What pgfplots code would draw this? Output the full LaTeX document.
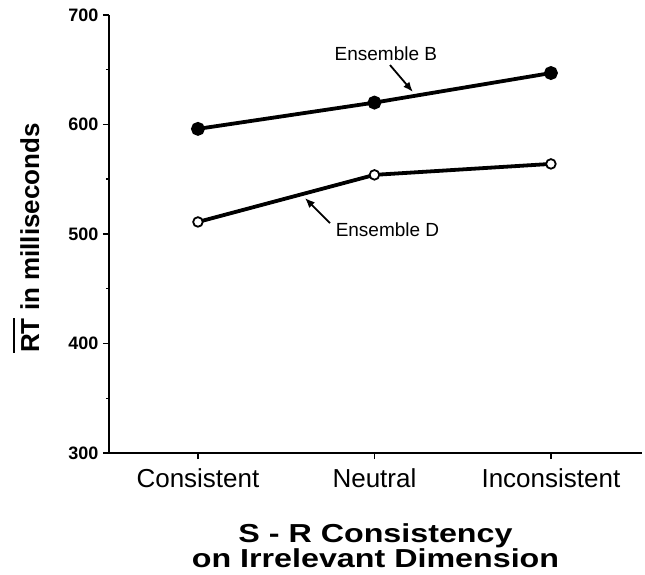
\documentclass[border=0pt]{standalone}
\usepackage{fontspec}
\setmainfont{Liberation Sans}
\usepackage{pgfplots}
\pgfplotsset{compat=1.18}
\usetikzlibrary{arrows.meta}
\newfontfamily\titlefont[FakeStretch=1.24]{Liberation Sans}

\begin{document}
\begin{tikzpicture}
\begin{axis}[
  scale only axis, width=533bp, height=438bp,
  xmin=-0.504, xmax=2.516, ymin=300, ymax=700,
  axis x line*=bottom, axis y line*=left,
  axis line style={line width=2.2bp, -},
  xtick={0,1,2}, xticklabels={Consistent,Neutral,Inconsistent},
  ytick={300,400,500,600,700}, minor ytick={350,450,550,650},
  tick align=outside,
  major tick length=6bp, minor tick length=3bp,
  tick style={line width=1.5bp, black},
  /pgf/number format/assume math mode=true,
  yticklabel style={font=\bfseries\fontsize{18bp}{18bp}\selectfont, xshift=-1bp},
  xticklabel style={font=\fontsize{26bp}{26bp}\selectfont, yshift=-6bp},
  ylabel={\leavevmode\vbox{\hrule height 1.8bp\kern 6bp\hbox{RT}} in milliseconds},
  ylabel style={font=\bfseries\fontsize{26bp}{26bp}\selectfont, at={(axis description cs:-0.155,0.491)}, anchor=center, rotate=0},
  xlabel={S - R Consistency\\on Irrelevant Dimension},
  xlabel style={font=\titlefont\bfseries\fontsize{26bp}{25bp}\selectfont, align=center, inner sep=0pt, at={(axis description cs:0.5,0)}, anchor=north, yshift=-70bp},
  clip=false,
]
\addplot[black, line width=3.8bp, mark=*, mark size=5bp, mark options={solid, fill=black}]
  coordinates {(0,596) (1,620) (2,647)};
\addplot[black, line width=3.8bp, mark=*, mark size=4.8bp, mark options={solid, fill=white, line width=1.8bp}]
  coordinates {(0,511) (1,554) (2,564)};
\node[font=\fontsize{19bp}{19bp}\selectfont] at (axis cs:1.065,665) {Ensemble B};
\node[font=\fontsize{19bp}{19bp}\selectfont] at (axis cs:1.074,503.7) {Ensemble D};
\draw[-{Latex[length=10bp,width=8bp]}, line width=1.8bp] (axis cs:1.088,654.3) -- (axis cs:1.218,629.7);
\draw[-{Latex[length=10bp,width=8bp]}, line width=1.8bp] (axis cs:0.748,510) -- (axis cs:0.606,532.9);
\end{axis}
\pgfresetboundingbox
\useasboundingbox (-109bp,-122bp) rectangle (536bp,453bp);
\end{tikzpicture}
\end{document}
